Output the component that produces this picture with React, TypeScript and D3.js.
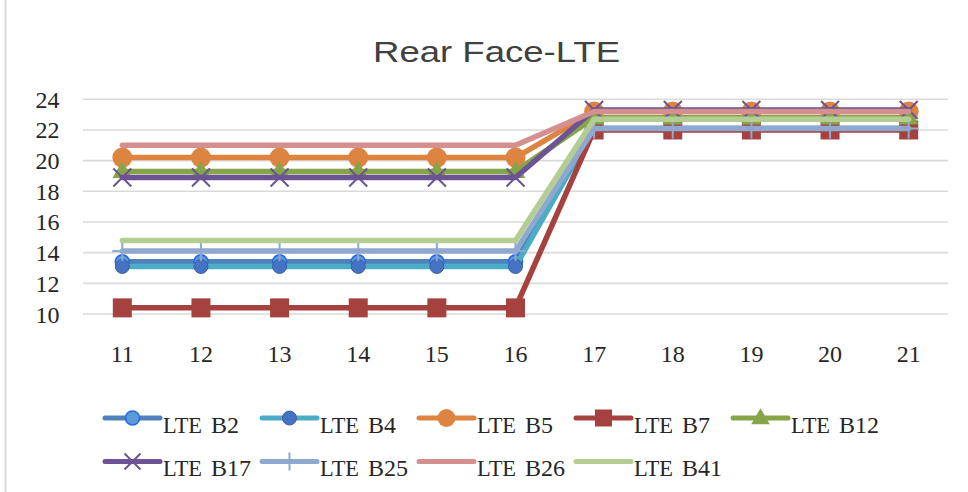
import React from "react";
import * as d3 from "d3";

// Categories along the x axis
const categories: string[] = ["11", "12", "13", "14", "15", "16", "17", "18", "19", "20", "21"];

// Series values (one entry per category)
const lteB2: number[] = [13.4, 13.4, 13.4, 13.4, 13.4, 13.4, 22.1, 22.1, 22.1, 22.1, 22.1];
const lteB4: number[] = [13.1, 13.1, 13.1, 13.1, 13.1, 13.1, 22.1, 22.1, 22.1, 22.1, 22.1];
const lteB5: number[] = [20.2, 20.2, 20.2, 20.2, 20.2, 20.2, 23.2, 23.2, 23.2, 23.2, 23.2];
const lteB7: number[] = [10.4, 10.4, 10.4, 10.4, 10.4, 10.4, 22.0, 22.0, 22.0, 22.0, 22.0];
const lteB12: number[] = [19.3, 19.3, 19.3, 19.3, 19.3, 19.3, 22.8, 22.8, 22.8, 22.8, 22.8];
const lteB17: number[] = [18.9, 18.9, 18.9, 18.9, 18.9, 18.9, 23.3, 23.3, 23.3, 23.3, 23.3];
const lteB25: number[] = [14.1, 14.1, 14.1, 14.1, 14.1, 14.1, 22.1, 22.1, 22.1, 22.1, 22.1];
const lteB26: number[] = [21.0, 21.0, 21.0, 21.0, 21.0, 21.0, 23.2, 23.2, 23.2, 23.2, 23.2];
const lteB41: number[] = [14.8, 14.8, 14.8, 14.8, 14.8, 14.8, 22.7, 22.7, 22.7, 22.7, 22.7];

// Y axis tick values
const yTicks: number[] = [10, 12, 14, 16, 18, 20, 22, 24];

type Marker = "circleLight" | "circleDark" | "circleBig" | "square" | "triangle" | "x" | "plus" | "none";

interface Series {
  band: string;
  values: number[];
  color: string;
  marker: Marker;
  markerFill?: string;
  markerStroke?: string;
}

const series: Series[] = [
  { band: "B2", values: lteB2, color: "#4F81BD", marker: "circleLight", markerFill: "#5B9BD5", markerStroke: "#2A66F0" },
  { band: "B4", values: lteB4, color: "#4BACC6", marker: "circleDark", markerFill: "#4472C4", markerStroke: "#3F5F9E" },
  { band: "B5", values: lteB5, color: "#DD8440", marker: "circleBig", markerFill: "#DD8440" },
  { band: "B7", values: lteB7, color: "#A5423F", marker: "square", markerFill: "#A5423F" },
  { band: "B12", values: lteB12, color: "#86A547", marker: "triangle", markerFill: "#86A547" },
  { band: "B17", values: lteB17, color: "#6C5393", marker: "x", markerStroke: "#6C5393" },
  { band: "B25", values: lteB25, color: "#8FA8CF", marker: "plus", markerStroke: "#8FA8CF" },
  { band: "B26", values: lteB26, color: "#D4908F", marker: "none" },
  { band: "B41", values: lteB41, color: "#B4CD93", marker: "none" },
];

const W = 968;
const H = 492;

const x = d3.scalePoint<string>().domain(categories).range([83, 948]).padding(0.5);
const y = d3.scaleLinear().domain([10, 24]).range([314, 99.3]);

function MarkerShape({ s, cx, cy, legend }: { s: Series; cx: number; cy: number; legend?: boolean }) {
  switch (s.marker) {
    case "circleLight":
      return <circle cx={cx} cy={cy} r={7} fill={s.markerFill} stroke={s.markerStroke} strokeWidth={1.6} />;
    case "circleDark":
      return <circle cx={cx} cy={cy} r={7} fill={s.markerFill} stroke={s.markerStroke} strokeWidth={1} />;
    case "circleBig":
      return <circle cx={cx} cy={cy} r={legend ? 9 : 10} fill={s.markerFill} />;
    case "square": {
      const h = legend ? 8.5 : 9.5;
      return <rect x={cx - h} y={cy - h} width={2 * h} height={2 * h} fill={s.markerFill} />;
    }
    case "triangle": {
      const sym = d3.symbol(d3.symbolTriangle, legend ? 150 : 170)();
      return <path d={sym || ""} transform={`translate(${cx},${cy + 1})`} fill={s.markerFill} />;
    }
    case "x": {
      const h = legend ? 8 : 9;
      return (
        <path
          d={`M${cx - h},${cy - h}L${cx + h},${cy + h}M${cx - h},${cy + h}L${cx + h},${cy - h}`}
          stroke={s.markerStroke}
          strokeWidth={2}
          fill="none"
        />
      );
    }
    case "plus": {
      const h = legend ? 9 : 10;
      return (
        <path
          d={`M${cx},${cy - h}L${cx},${cy + h}M${cx - h},${cy}L${cx + h},${cy}`}
          stroke={s.markerStroke}
          strokeWidth={2}
          fill="none"
        />
      );
    }
    default:
      return null;
  }
}

export default function App() {
  const line = d3
    .line<number>()
    .x((_, i) => x(categories[i]) as number)
    .y((v) => y(v));

  const [x0, x1] = x.range();

  return (
    <svg
      width={W}
      height={H}
      viewBox={`0 0 ${W} ${H}`}
      style={{ position: "absolute", left: 0, top: 0, background: "#fff" }}
    >
      <rect x={0} y={0} width={W} height={H} fill="#fff" />
      <line x1={5.5} y1={0} x2={5.5} y2={H} stroke="#d9d9d9" strokeWidth={2} />

      {/* Title */}
      <text
        x={496.5}
        y={62}
        textAnchor="middle"
        fontFamily="'Liberation Sans', Arial, sans-serif"
        fontSize={29}
        fill="#404040"
        textLength={247}
        lengthAdjust="spacingAndGlyphs"
      >
        Rear Face-LTE
      </text>

      {/* Horizontal gridlines */}
      {yTicks.map((t) => (
        <line key={t} x1={x0} x2={x1} y1={y(t)} y2={y(t)} stroke="#d9d9d9" strokeWidth={1.6} />
      ))}

      {/* Y tick labels */}
      {yTicks.map((t) => (
        <text
          key={"yl" + t}
          x={59.5}
          y={y(t) + 8.5}
          textAnchor="end"
          fontFamily="'Liberation Serif', 'Times New Roman', serif"
          fontSize={24}
          fill="#262626"
        >
          {t}
        </text>
      ))}

      {/* X tick labels */}
      {categories.map((c) => (
        <text
          key={"xl" + c}
          x={x(c) as number}
          y={362}
          textAnchor="middle"
          fontFamily="'Liberation Serif', 'Times New Roman', serif"
          fontSize={24}
          fill="#262626"
        >
          {c}
        </text>
      ))}

      {/* Series lines with their markers */}
      {series.map((s) => (
        <g key={s.band}>
          <path
            d={line(s.values) || ""}
            fill="none"
            stroke={s.color}
            strokeWidth={5.5}
            strokeLinejoin="round"
            strokeLinecap="round"
          />
          {s.values.map((v, i) => (
            <MarkerShape key={i} s={s} cx={x(categories[i]) as number} cy={y(v)} />
          ))}
        </g>
      ))}

      {/* Legend */}
      {series.map((s, i) => {
        const col = i < 5 ? i : i - 5;
        const row = i < 5 ? 0 : 1;
        const lx = 105 + col * 157;
        const ly = row === 0 ? 418 : 461.5;
        const ty = row === 0 ? 433 : 475.5;
        return (
          <g key={"lg" + s.band}>
            <line x1={lx} x2={lx + 55} y1={ly} y2={ly} stroke={s.color} strokeWidth={5} strokeLinecap="round" />
            <MarkerShape s={s} cx={lx + 27.5} cy={ly} legend />
            <text
              x={lx + 58}
              y={ty}
              fontFamily="'Liberation Serif', 'Times New Roman', serif"
              fontSize={24}
              fill="#262626"
              textLength={39}
              lengthAdjust="spacingAndGlyphs"
            >
              LTE
            </text>
            <text
              x={lx + 106}
              y={ty}
              fontFamily="'Liberation Serif', 'Times New Roman', serif"
              fontSize={24}
              fill="#262626"
            >
              {s.band}
            </text>
          </g>
        );
      })}
    </svg>
  );
}
